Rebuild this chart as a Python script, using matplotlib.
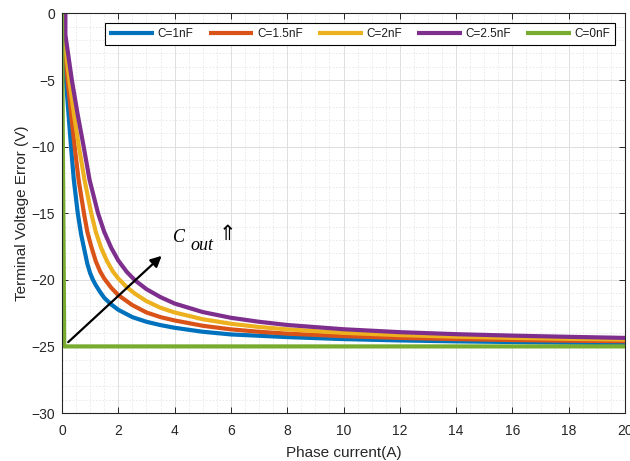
import matplotlib
matplotlib.use("Agg")
import matplotlib.pyplot as plt
from matplotlib.ticker import MultipleLocator

plt.rcParams['font.family'] = ['Liberation Sans', 'DejaVu Sans']

# ---- data ----
x_1nF = [0.04, 0.08, 0.14, 0.23, 0.32, 0.42, 0.56, 0.68, 0.8, 0.9, 1.0, 1.1, 1.2, 1.35, 1.5, 1.75,
         2.0, 2.5, 3.0, 3.5, 4, 5, 6, 7, 8, 10, 12, 14, 16, 18, 20]
y_1nF = [0, -2.5, -5, -7.5, -10, -12.5, -15, -16.6, -17.8, -18.8, -19.5, -20.0, -20.4, -20.9, -21.35, -21.85,
         -22.25, -22.8, -23.15, -23.4, -23.6, -23.9, -24.1, -24.2, -24.3, -24.45, -24.55, -24.62, -24.67, -24.72, -24.76]

x_15nF = [0.05, 0.1, 0.2, 0.32, 0.45, 0.59, 0.78, 0.9, 1.04, 1.2, 1.35, 1.5, 1.75, 2.0, 2.5, 3.0, 3.5,
          4, 5, 6, 7, 8, 10, 12, 14, 16, 18, 20]
y_15nF = [0, -2.5, -5, -7.5, -10, -12.5, -15, -16.4, -17.5, -18.6, -19.35, -19.9, -20.6, -21.15, -21.9, -22.45, -22.8,
          -23.05, -23.45, -23.72, -23.9, -24.04, -24.23, -24.36, -24.45, -24.52, -24.57, -24.61]

x_2nF = [0.05, 0.12, 0.26, 0.42, 0.6, 0.8, 1.04, 1.2, 1.39, 1.6, 1.8, 2.0, 2.3, 2.6, 3.0, 3.5,
         4, 5, 6, 7, 8, 10, 12, 14, 16, 18, 20]
y_2nF = [0, -2.5, -5, -7.5, -10, -12.5, -15, -16.4, -17.6, -18.6, -19.35, -19.9, -20.55, -21.05, -21.6, -22.1,
         -22.45, -22.96, -23.3, -23.54, -23.72, -23.98, -24.15, -24.27, -24.36, -24.43, -24.49]

x_25nF = [0.12, 0.12, 0.35, 0.55, 0.77, 0.98, 1.28, 1.5, 1.75, 2.0, 2.3, 2.6, 3.0, 3.5,
          4, 5, 6, 7, 8, 10, 12, 14, 16, 18, 20]
y_25nF = [0, -1.6, -5, -7.5, -10, -12.5, -15, -16.4, -17.6, -18.55, -19.4, -20.05, -20.7, -21.3,
          -21.78, -22.42, -22.85, -23.15, -23.39, -23.71, -23.93, -24.08, -24.19, -24.28, -24.36]

x_0nF = [0.0, 0.08, 20]
y_0nF = [0, -25, -25]

labels = ["C=1nF", "C=1.5nF", "C=2nF", "C=2.5nF", "C=0nF"]
colors = ["#0072BD", "#D95319", "#EDB120", "#7E2F8E", "#77AC30"]

xticks = [0, 2, 4, 6, 8, 10, 12, 14, 16, 18, 20]
yticks = [0, -5, -10, -15, -20, -25, -30]

# ---- figure ----
fig = plt.figure(figsize=(6.3, 4.61), dpi=100)
ax = fig.add_axes([62/630, 1-413/461, (625-62)/630, (413-13.5)/461])

series = [(x_1nF, y_1nF), (x_15nF, y_15nF), (x_2nF, y_2nF), (x_25nF, y_25nF), (x_0nF, y_0nF)]
for (xs, ys), lab, col in zip(series, labels, colors):
    ax.plot(xs, ys, color=col, lw=3.0, label=lab, solid_capstyle='butt', solid_joinstyle='round')

ax.set_xlim(0, 20)
ax.set_ylim(-30, 0)
ax.set_xticks(xticks)
ax.set_yticks(yticks)
ax.xaxis.set_minor_locator(MultipleLocator(0.5))
ax.yaxis.set_minor_locator(MultipleLocator(1))

ax.grid(which='major', color='#dedede', lw=0.7, ls='-')
ax.grid(which='minor', color='#e6e6e6', lw=0.6, ls=(0, (2, 2)))
ax.set_axisbelow(True)

ax.tick_params(which='major', direction='in', length=4, width=0.7, top=True, right=True,
               labelsize=10, colors='#262626')
ax.tick_params(axis='x', which='major', pad=8)
ax.tick_params(axis='y', which='major', pad=5)
ax.tick_params(which='minor', length=0, top=True, right=True)
for sp in ax.spines.values():
    sp.set_color('#262626')
    sp.set_linewidth(0.8)

ax.set_xlabel("Phase current(A)", fontsize=11, color='#262626', labelpad=6)
ax.set_ylabel("Terminal Voltage Error (V)", fontsize=11, color='#262626', labelpad=2)

leg = ax.legend(loc='upper right', bbox_to_anchor=(0.982, 0.976), ncol=5, fontsize=8.5,
                frameon=True, fancybox=False, edgecolor='black', framealpha=1,
                handlelength=3.8, handletextpad=0.3, columnspacing=1.27, borderpad=0.4,
                borderaxespad=0)
leg.get_frame().set_linewidth(0.8)
for t in leg.get_texts():
    t.set_color('#1a1a1a')

# arrow and annotation
ax.annotate("", xy=(3.54, -18.2), xytext=(0.22, -24.68),
            arrowprops=dict(arrowstyle='-|>', color='black', lw=1.6, mutation_scale=16,
                            shrinkA=0, shrinkB=0))
ax.text(3.94, -17.18, "C", fontsize=13, style='italic', family=['Liberation Serif', 'DejaVu Serif'],
        ha='left', va='baseline', color='black')
ax.text(4.57, -17.78, "out", fontsize=13, style='italic', family=['Liberation Serif', 'DejaVu Serif'],
        ha='left', va='baseline', color='black')
ax.text(5.58, -17.0, "\u21D1", fontsize=15, family=['DejaVu Sans'],
        ha='left', va='baseline', color='black')

fig.savefig("out.png", dpi=100)
